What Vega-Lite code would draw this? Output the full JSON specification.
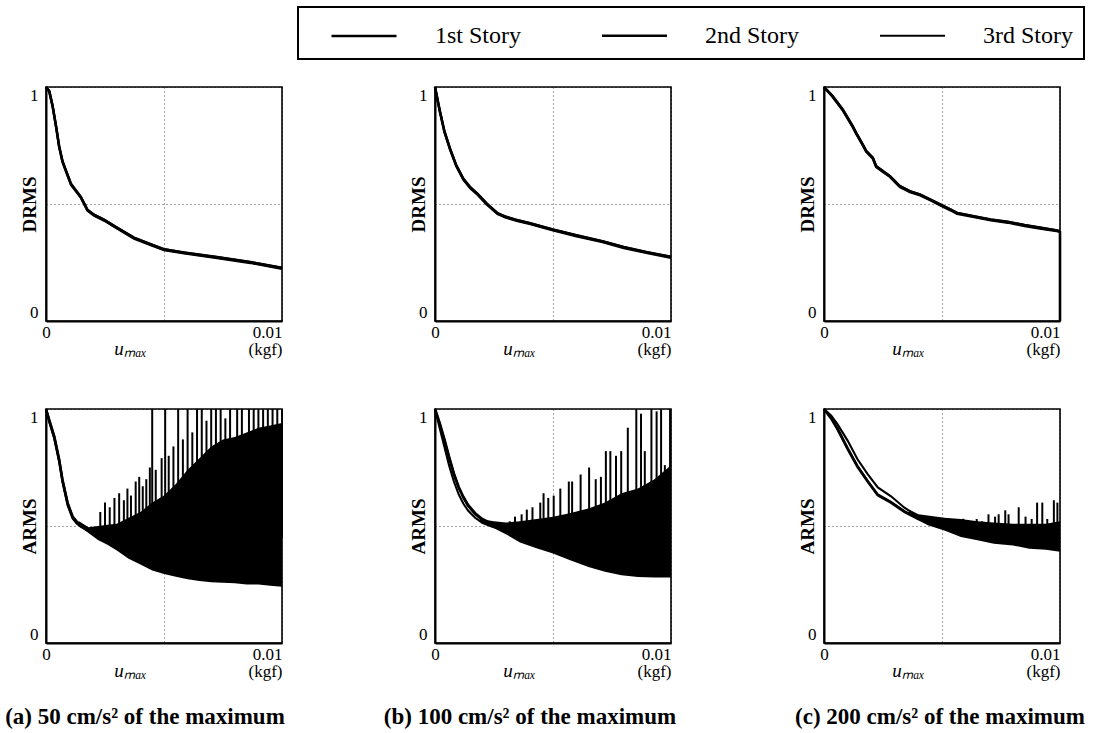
{
"$schema": "https://vega.github.io/schema/vega-lite/v6.json",
"background": "white",
"padding": {"left": 1, "top": 6, "right": 5, "bottom": 5},
"datasets": {
"lines": [
{"p":"a1","s":"1st Story","x":0,"y":1},{"p":"a1","s":"1st Story","x":0.00014,"y":0.982},{"p":"a1","s":"1st Story","x":0.00028,"y":0.919},{"p":"a1","s":"1st Story","x":0.00042,"y":0.836},{"p":"a1","s":"1st Story","x":0.00056,"y":0.745},{"p":"a1","s":"1st Story","x":0.0007,"y":0.682},{"p":"a1","s":"1st Story","x":0.00085,"y":0.641},{"p":"a1","s":"1st Story","x":0.00106,"y":0.585},{"p":"a1","s":"1st Story","x":0.00127,"y":0.557},{"p":"a1","s":"1st Story","x":0.00148,"y":0.529},{"p":"a1","s":"1st Story","x":0.00176,"y":0.474},{"p":"a1","s":"1st Story","x":0.00204,"y":0.453},{"p":"a1","s":"1st Story","x":0.00246,"y":0.432},{"p":"a1","s":"1st Story","x":0.00303,"y":0.397},{"p":"a1","s":"1st Story","x":0.00373,"y":0.355},{"p":"a1","s":"1st Story","x":0.00444,"y":0.327},{"p":"a1","s":"1st Story","x":0.005,"y":0.306},{"p":"a1","s":"1st Story","x":0.00585,"y":0.292},{"p":"a1","s":"1st Story","x":0.00725,"y":0.272},{"p":"a1","s":"1st Story","x":0.00866,"y":0.251},{"p":"a1","s":"1st Story","x":0.01,"y":0.226},
{"p":"a1","s":"2nd Story","x":0,"y":1},{"p":"a1","s":"2nd Story","x":0.00014,"y":0.979},{"p":"a1","s":"2nd Story","x":0.00028,"y":0.916},{"p":"a1","s":"2nd Story","x":0.00042,"y":0.833},{"p":"a1","s":"2nd Story","x":0.00056,"y":0.742},{"p":"a1","s":"2nd Story","x":0.0007,"y":0.679},{"p":"a1","s":"2nd Story","x":0.00085,"y":0.638},{"p":"a1","s":"2nd Story","x":0.00106,"y":0.582},{"p":"a1","s":"2nd Story","x":0.00127,"y":0.554},{"p":"a1","s":"2nd Story","x":0.00148,"y":0.526},{"p":"a1","s":"2nd Story","x":0.00176,"y":0.471},{"p":"a1","s":"2nd Story","x":0.00204,"y":0.45},{"p":"a1","s":"2nd Story","x":0.00246,"y":0.429},{"p":"a1","s":"2nd Story","x":0.00303,"y":0.394},{"p":"a1","s":"2nd Story","x":0.00373,"y":0.352},{"p":"a1","s":"2nd Story","x":0.00444,"y":0.324},{"p":"a1","s":"2nd Story","x":0.005,"y":0.303},{"p":"a1","s":"2nd Story","x":0.00585,"y":0.289},{"p":"a1","s":"2nd Story","x":0.00725,"y":0.269},{"p":"a1","s":"2nd Story","x":0.00866,"y":0.248},{"p":"a1","s":"2nd Story","x":0.01,"y":0.223},
{"p":"a1","s":"3rd Story","x":0,"y":1},{"p":"a1","s":"3rd Story","x":0.00014,"y":0.984},{"p":"a1","s":"3rd Story","x":0.00028,"y":0.921},{"p":"a1","s":"3rd Story","x":0.00042,"y":0.838},{"p":"a1","s":"3rd Story","x":0.00056,"y":0.747},{"p":"a1","s":"3rd Story","x":0.0007,"y":0.684},{"p":"a1","s":"3rd Story","x":0.00085,"y":0.643},{"p":"a1","s":"3rd Story","x":0.00106,"y":0.587},{"p":"a1","s":"3rd Story","x":0.00127,"y":0.559},{"p":"a1","s":"3rd Story","x":0.00148,"y":0.531},{"p":"a1","s":"3rd Story","x":0.00176,"y":0.476},{"p":"a1","s":"3rd Story","x":0.00204,"y":0.455},{"p":"a1","s":"3rd Story","x":0.00246,"y":0.434},{"p":"a1","s":"3rd Story","x":0.00303,"y":0.399},{"p":"a1","s":"3rd Story","x":0.00373,"y":0.357},{"p":"a1","s":"3rd Story","x":0.00444,"y":0.329},{"p":"a1","s":"3rd Story","x":0.005,"y":0.308},{"p":"a1","s":"3rd Story","x":0.00585,"y":0.294},{"p":"a1","s":"3rd Story","x":0.00725,"y":0.274},{"p":"a1","s":"3rd Story","x":0.00866,"y":0.253},{"p":"a1","s":"3rd Story","x":0.01,"y":0.228},

{"p":"b1","s":"1st Story","x":0,"y":1},{"p":"b1","s":"1st Story","x":0.0002,"y":0.9},{"p":"b1","s":"1st Story","x":0.0004,"y":0.81},{"p":"b1","s":"1st Story","x":0.00064,"y":0.735},{"p":"b1","s":"1st Story","x":0.0009,"y":0.665},{"p":"b1","s":"1st Story","x":0.0012,"y":0.607},{"p":"b1","s":"1st Story","x":0.0015,"y":0.57},{"p":"b1","s":"1st Story","x":0.0018,"y":0.543},{"p":"b1","s":"1st Story","x":0.0022,"y":0.5},{"p":"b1","s":"1st Story","x":0.00265,"y":0.46},{"p":"b1","s":"1st Story","x":0.003,"y":0.445},{"p":"b1","s":"1st Story","x":0.0035,"y":0.43},{"p":"b1","s":"1st Story","x":0.004,"y":0.418},{"p":"b1","s":"1st Story","x":0.005,"y":0.39},{"p":"b1","s":"1st Story","x":0.006,"y":0.365},{"p":"b1","s":"1st Story","x":0.0071,"y":0.34},{"p":"b1","s":"1st Story","x":0.008,"y":0.315},{"p":"b1","s":"1st Story","x":0.009,"y":0.293},{"p":"b1","s":"1st Story","x":0.01,"y":0.273},
{"p":"b1","s":"2nd Story","x":0,"y":1},{"p":"b1","s":"2nd Story","x":0.0002,"y":0.897},{"p":"b1","s":"2nd Story","x":0.0004,"y":0.807},{"p":"b1","s":"2nd Story","x":0.00064,"y":0.732},{"p":"b1","s":"2nd Story","x":0.0009,"y":0.662},{"p":"b1","s":"2nd Story","x":0.0012,"y":0.604},{"p":"b1","s":"2nd Story","x":0.0015,"y":0.567},{"p":"b1","s":"2nd Story","x":0.0018,"y":0.54},{"p":"b1","s":"2nd Story","x":0.0022,"y":0.497},{"p":"b1","s":"2nd Story","x":0.00265,"y":0.457},{"p":"b1","s":"2nd Story","x":0.003,"y":0.442},{"p":"b1","s":"2nd Story","x":0.0035,"y":0.427},{"p":"b1","s":"2nd Story","x":0.004,"y":0.415},{"p":"b1","s":"2nd Story","x":0.005,"y":0.387},{"p":"b1","s":"2nd Story","x":0.006,"y":0.362},{"p":"b1","s":"2nd Story","x":0.0071,"y":0.337},{"p":"b1","s":"2nd Story","x":0.008,"y":0.312},{"p":"b1","s":"2nd Story","x":0.009,"y":0.29},{"p":"b1","s":"2nd Story","x":0.01,"y":0.27},
{"p":"b1","s":"3rd Story","x":0,"y":1},{"p":"b1","s":"3rd Story","x":0.0002,"y":0.902},{"p":"b1","s":"3rd Story","x":0.0004,"y":0.812},{"p":"b1","s":"3rd Story","x":0.00064,"y":0.737},{"p":"b1","s":"3rd Story","x":0.0009,"y":0.667},{"p":"b1","s":"3rd Story","x":0.0012,"y":0.609},{"p":"b1","s":"3rd Story","x":0.0015,"y":0.572},{"p":"b1","s":"3rd Story","x":0.0018,"y":0.545},{"p":"b1","s":"3rd Story","x":0.0022,"y":0.502},{"p":"b1","s":"3rd Story","x":0.00265,"y":0.462},{"p":"b1","s":"3rd Story","x":0.003,"y":0.447},{"p":"b1","s":"3rd Story","x":0.0035,"y":0.432},{"p":"b1","s":"3rd Story","x":0.004,"y":0.42},{"p":"b1","s":"3rd Story","x":0.005,"y":0.392},{"p":"b1","s":"3rd Story","x":0.006,"y":0.367},{"p":"b1","s":"3rd Story","x":0.0071,"y":0.342},{"p":"b1","s":"3rd Story","x":0.008,"y":0.317},{"p":"b1","s":"3rd Story","x":0.009,"y":0.295},{"p":"b1","s":"3rd Story","x":0.01,"y":0.275},

{"p":"c1","s":"1st Story","x":0,"y":1},{"p":"c1","s":"1st Story","x":0.00036,"y":0.961},{"p":"c1","s":"1st Story","x":0.00079,"y":0.904},{"p":"c1","s":"1st Story","x":0.00121,"y":0.833},{"p":"c1","s":"1st Story","x":0.00136,"y":0.804},{"p":"c1","s":"1st Story","x":0.00164,"y":0.754},{"p":"c1","s":"1st Story","x":0.00179,"y":0.726},{"p":"c1","s":"1st Story","x":0.00207,"y":0.697},{"p":"c1","s":"1st Story","x":0.00221,"y":0.661},{"p":"c1","s":"1st Story","x":0.0025,"y":0.64},{"p":"c1","s":"1st Story","x":0.00279,"y":0.619},{"p":"c1","s":"1st Story","x":0.00321,"y":0.576},{"p":"c1","s":"1st Story","x":0.00364,"y":0.554},{"p":"c1","s":"1st Story","x":0.00407,"y":0.54},{"p":"c1","s":"1st Story","x":0.0045,"y":0.519},{"p":"c1","s":"1st Story","x":0.00493,"y":0.497},{"p":"c1","s":"1st Story","x":0.00536,"y":0.476},{"p":"c1","s":"1st Story","x":0.00564,"y":0.461},{"p":"c1","s":"1st Story","x":0.00636,"y":0.447},{"p":"c1","s":"1st Story","x":0.00707,"y":0.433},{"p":"c1","s":"1st Story","x":0.00779,"y":0.423},{"p":"c1","s":"1st Story","x":0.0085,"y":0.409},{"p":"c1","s":"1st Story","x":0.00921,"y":0.397},{"p":"c1","s":"1st Story","x":0.00986,"y":0.387},{"p":"c1","s":"1st Story","x":0.01,"y":0.38},{"p":"c1","s":"1st Story","x":0.01,"y":0},
{"p":"c1","s":"2nd Story","x":0,"y":1},{"p":"c1","s":"2nd Story","x":0.00036,"y":0.958},{"p":"c1","s":"2nd Story","x":0.00079,"y":0.901},{"p":"c1","s":"2nd Story","x":0.00121,"y":0.83},{"p":"c1","s":"2nd Story","x":0.00136,"y":0.801},{"p":"c1","s":"2nd Story","x":0.00164,"y":0.751},{"p":"c1","s":"2nd Story","x":0.00179,"y":0.723},{"p":"c1","s":"2nd Story","x":0.00207,"y":0.694},{"p":"c1","s":"2nd Story","x":0.00221,"y":0.658},{"p":"c1","s":"2nd Story","x":0.0025,"y":0.637},{"p":"c1","s":"2nd Story","x":0.00279,"y":0.616},{"p":"c1","s":"2nd Story","x":0.00321,"y":0.573},{"p":"c1","s":"2nd Story","x":0.00364,"y":0.551},{"p":"c1","s":"2nd Story","x":0.00407,"y":0.537},{"p":"c1","s":"2nd Story","x":0.0045,"y":0.516},{"p":"c1","s":"2nd Story","x":0.00493,"y":0.494},{"p":"c1","s":"2nd Story","x":0.00536,"y":0.473},{"p":"c1","s":"2nd Story","x":0.00564,"y":0.458},{"p":"c1","s":"2nd Story","x":0.00636,"y":0.444},{"p":"c1","s":"2nd Story","x":0.00707,"y":0.43},{"p":"c1","s":"2nd Story","x":0.00779,"y":0.42},{"p":"c1","s":"2nd Story","x":0.0085,"y":0.406},{"p":"c1","s":"2nd Story","x":0.00921,"y":0.394},{"p":"c1","s":"2nd Story","x":0.01,"y":0.382},
{"p":"c1","s":"3rd Story","x":0,"y":1},{"p":"c1","s":"3rd Story","x":0.00036,"y":0.963},{"p":"c1","s":"3rd Story","x":0.00079,"y":0.906},{"p":"c1","s":"3rd Story","x":0.00121,"y":0.835},{"p":"c1","s":"3rd Story","x":0.00136,"y":0.806},{"p":"c1","s":"3rd Story","x":0.00164,"y":0.756},{"p":"c1","s":"3rd Story","x":0.00179,"y":0.728},{"p":"c1","s":"3rd Story","x":0.00207,"y":0.699},{"p":"c1","s":"3rd Story","x":0.00221,"y":0.663},{"p":"c1","s":"3rd Story","x":0.0025,"y":0.642},{"p":"c1","s":"3rd Story","x":0.00279,"y":0.621},{"p":"c1","s":"3rd Story","x":0.00321,"y":0.578},{"p":"c1","s":"3rd Story","x":0.00364,"y":0.556},{"p":"c1","s":"3rd Story","x":0.00407,"y":0.542},{"p":"c1","s":"3rd Story","x":0.0045,"y":0.521},{"p":"c1","s":"3rd Story","x":0.00493,"y":0.499},{"p":"c1","s":"3rd Story","x":0.00536,"y":0.478},{"p":"c1","s":"3rd Story","x":0.00564,"y":0.463},{"p":"c1","s":"3rd Story","x":0.00636,"y":0.449},{"p":"c1","s":"3rd Story","x":0.00707,"y":0.435},{"p":"c1","s":"3rd Story","x":0.00779,"y":0.425},{"p":"c1","s":"3rd Story","x":0.0085,"y":0.411},{"p":"c1","s":"3rd Story","x":0.00921,"y":0.399},{"p":"c1","s":"3rd Story","x":0.01,"y":0.386},

{"p":"a2","s":"1st Story","x":0,"y":1},{"p":"a2","s":"1st Story","x":0.00015,"y":0.945},{"p":"a2","s":"1st Story","x":0.00035,"y":0.879},{"p":"a2","s":"1st Story","x":0.00056,"y":0.779},{"p":"a2","s":"1st Story","x":0.0007,"y":0.693},{"p":"a2","s":"1st Story","x":0.00092,"y":0.593},{"p":"a2","s":"1st Story","x":0.00113,"y":0.536},{"p":"a2","s":"1st Story","x":0.0013,"y":0.515},{"p":"a2","s":"1st Story","x":0.00148,"y":0.5},{"p":"a2","s":"1st Story","x":0.0018,"y":0.482},{"p":"a2","s":"1st Story","x":0.0022,"y":0.462},{"p":"a2","s":"1st Story","x":0.0026,"y":0.44},{"p":"a2","s":"1st Story","x":0.003,"y":0.42},{"p":"a2","s":"1st Story","x":0.004,"y":0.38},{"p":"a2","s":"1st Story","x":0.005,"y":0.345},{"p":"a2","s":"1st Story","x":0.006,"y":0.32},{"p":"a2","s":"1st Story","x":0.007,"y":0.305},{"p":"a2","s":"1st Story","x":0.008,"y":0.295},{"p":"a2","s":"1st Story","x":0.009,"y":0.285},{"p":"a2","s":"1st Story","x":0.01,"y":0.275},
{"p":"a2","s":"2nd Story","x":0,"y":1},{"p":"a2","s":"2nd Story","x":0.00015,"y":0.95},{"p":"a2","s":"2nd Story","x":0.00035,"y":0.885},{"p":"a2","s":"2nd Story","x":0.00056,"y":0.785},{"p":"a2","s":"2nd Story","x":0.0007,"y":0.699},{"p":"a2","s":"2nd Story","x":0.00092,"y":0.599},{"p":"a2","s":"2nd Story","x":0.00113,"y":0.541},{"p":"a2","s":"2nd Story","x":0.0013,"y":0.52},{"p":"a2","s":"2nd Story","x":0.00148,"y":0.505},{"p":"a2","s":"2nd Story","x":0.0018,"y":0.487},{"p":"a2","s":"2nd Story","x":0.0022,"y":0.466},{"p":"a2","s":"2nd Story","x":0.0026,"y":0.444},{"p":"a2","s":"2nd Story","x":0.003,"y":0.424},{"p":"a2","s":"2nd Story","x":0.004,"y":0.383},{"p":"a2","s":"2nd Story","x":0.005,"y":0.348},{"p":"a2","s":"2nd Story","x":0.006,"y":0.323},{"p":"a2","s":"2nd Story","x":0.007,"y":0.308},{"p":"a2","s":"2nd Story","x":0.008,"y":0.298},{"p":"a2","s":"2nd Story","x":0.009,"y":0.288},{"p":"a2","s":"2nd Story","x":0.01,"y":0.278},
{"p":"a2","s":"3rd Story","x":0,"y":1},{"p":"a2","s":"3rd Story","x":0.00015,"y":0.941},{"p":"a2","s":"3rd Story","x":0.00035,"y":0.874},{"p":"a2","s":"3rd Story","x":0.00056,"y":0.774},{"p":"a2","s":"3rd Story","x":0.0007,"y":0.688},{"p":"a2","s":"3rd Story","x":0.00092,"y":0.588},{"p":"a2","s":"3rd Story","x":0.00113,"y":0.532},{"p":"a2","s":"3rd Story","x":0.0013,"y":0.511},{"p":"a2","s":"3rd Story","x":0.00148,"y":0.496},{"p":"a2","s":"3rd Story","x":0.0018,"y":0.478},{"p":"a2","s":"3rd Story","x":0.0022,"y":0.458},{"p":"a2","s":"3rd Story","x":0.0026,"y":0.436},{"p":"a2","s":"3rd Story","x":0.003,"y":0.416},{"p":"a2","s":"3rd Story","x":0.004,"y":0.376},{"p":"a2","s":"3rd Story","x":0.005,"y":0.341},{"p":"a2","s":"3rd Story","x":0.006,"y":0.316},{"p":"a2","s":"3rd Story","x":0.007,"y":0.301},{"p":"a2","s":"3rd Story","x":0.008,"y":0.291},{"p":"a2","s":"3rd Story","x":0.009,"y":0.281},{"p":"a2","s":"3rd Story","x":0.01,"y":0.271},

{"p":"b2","s":"1st Story","x":0,"y":1},{"p":"b2","s":"1st Story","x":0.0002,"y":0.94},{"p":"b2","s":"1st Story","x":0.0004,"y":0.87},{"p":"b2","s":"1st Story","x":0.0006,"y":0.795},{"p":"b2","s":"1st Story","x":0.0008,"y":0.725},{"p":"b2","s":"1st Story","x":0.001,"y":0.668},{"p":"b2","s":"1st Story","x":0.0012,"y":0.625},{"p":"b2","s":"1st Story","x":0.0014,"y":0.59},{"p":"b2","s":"1st Story","x":0.0017,"y":0.555},{"p":"b2","s":"1st Story","x":0.002,"y":0.53},{"p":"b2","s":"1st Story","x":0.0024,"y":0.51},{"p":"b2","s":"1st Story","x":0.0028,"y":0.495},{"p":"b2","s":"1st Story","x":0.0035,"y":0.47},{"p":"b2","s":"1st Story","x":0.0045,"y":0.44},{"p":"b2","s":"1st Story","x":0.006,"y":0.41},{"p":"b2","s":"1st Story","x":0.008,"y":0.38},{"p":"b2","s":"1st Story","x":0.01,"y":0.36},
{"p":"b2","s":"2nd Story","x":0,"y":1},{"p":"b2","s":"2nd Story","x":0.0002,"y":0.936},{"p":"b2","s":"2nd Story","x":0.0004,"y":0.866},{"p":"b2","s":"2nd Story","x":0.0006,"y":0.791},{"p":"b2","s":"2nd Story","x":0.0008,"y":0.721},{"p":"b2","s":"2nd Story","x":0.001,"y":0.664},{"p":"b2","s":"2nd Story","x":0.0012,"y":0.621},{"p":"b2","s":"2nd Story","x":0.0014,"y":0.586},{"p":"b2","s":"2nd Story","x":0.0017,"y":0.551},{"p":"b2","s":"2nd Story","x":0.002,"y":0.526},{"p":"b2","s":"2nd Story","x":0.0024,"y":0.506},{"p":"b2","s":"2nd Story","x":0.0028,"y":0.491},{"p":"b2","s":"2nd Story","x":0.0035,"y":0.466},{"p":"b2","s":"2nd Story","x":0.0045,"y":0.436},{"p":"b2","s":"2nd Story","x":0.006,"y":0.406},{"p":"b2","s":"2nd Story","x":0.008,"y":0.376},{"p":"b2","s":"2nd Story","x":0.01,"y":0.356},
{"p":"b2","s":"3rd Story","x":0,"y":1},{"p":"b2","s":"3rd Story","x":0.0002,"y":0.918},{"p":"b2","s":"3rd Story","x":0.0004,"y":0.838},{"p":"b2","s":"3rd Story","x":0.0006,"y":0.758},{"p":"b2","s":"3rd Story","x":0.0008,"y":0.69},{"p":"b2","s":"3rd Story","x":0.001,"y":0.636},{"p":"b2","s":"3rd Story","x":0.0012,"y":0.596},{"p":"b2","s":"3rd Story","x":0.0014,"y":0.566},{"p":"b2","s":"3rd Story","x":0.0017,"y":0.535},{"p":"b2","s":"3rd Story","x":0.002,"y":0.514},{"p":"b2","s":"3rd Story","x":0.0024,"y":0.498},{"p":"b2","s":"3rd Story","x":0.0028,"y":0.486},{"p":"b2","s":"3rd Story","x":0.0035,"y":0.465},{"p":"b2","s":"3rd Story","x":0.0045,"y":0.437},{"p":"b2","s":"3rd Story","x":0.006,"y":0.408},{"p":"b2","s":"3rd Story","x":0.008,"y":0.378},{"p":"b2","s":"3rd Story","x":0.01,"y":0.358},

{"p":"c2","s":"1st Story","x":0,"y":1},{"p":"c2","s":"1st Story","x":0.0003,"y":0.96},{"p":"c2","s":"1st Story","x":0.00057,"y":0.914},{"p":"c2","s":"1st Story","x":0.001,"y":0.83},{"p":"c2","s":"1st Story","x":0.00142,"y":0.753},{"p":"c2","s":"1st Story","x":0.00185,"y":0.69},{"p":"c2","s":"1st Story","x":0.00228,"y":0.631},{"p":"c2","s":"1st Story","x":0.00284,"y":0.6},{"p":"c2","s":"1st Story","x":0.00341,"y":0.56},{"p":"c2","s":"1st Story","x":0.00398,"y":0.531},{"p":"c2","s":"1st Story","x":0.00455,"y":0.51},{"p":"c2","s":"1st Story","x":0.0055,"y":0.485},{"p":"c2","s":"1st Story","x":0.007,"y":0.455},{"p":"c2","s":"1st Story","x":0.0085,"y":0.435},{"p":"c2","s":"1st Story","x":0.01,"y":0.425},
{"p":"c2","s":"2nd Story","x":0,"y":1},{"p":"c2","s":"2nd Story","x":0.0003,"y":0.963},{"p":"c2","s":"2nd Story","x":0.00057,"y":0.917},{"p":"c2","s":"2nd Story","x":0.001,"y":0.833},{"p":"c2","s":"2nd Story","x":0.00142,"y":0.756},{"p":"c2","s":"2nd Story","x":0.00185,"y":0.693},{"p":"c2","s":"2nd Story","x":0.00228,"y":0.634},{"p":"c2","s":"2nd Story","x":0.00284,"y":0.603},{"p":"c2","s":"2nd Story","x":0.00341,"y":0.563},{"p":"c2","s":"2nd Story","x":0.00398,"y":0.534},{"p":"c2","s":"2nd Story","x":0.00455,"y":0.513},{"p":"c2","s":"2nd Story","x":0.0055,"y":0.488},{"p":"c2","s":"2nd Story","x":0.007,"y":0.458},{"p":"c2","s":"2nd Story","x":0.0085,"y":0.438},{"p":"c2","s":"2nd Story","x":0.01,"y":0.428},
{"p":"c2","s":"3rd Story","x":0,"y":1},{"p":"c2","s":"3rd Story","x":0.0003,"y":0.972},{"p":"c2","s":"3rd Story","x":0.00057,"y":0.935},{"p":"c2","s":"3rd Story","x":0.001,"y":0.865},{"p":"c2","s":"3rd Story","x":0.00142,"y":0.785},{"p":"c2","s":"3rd Story","x":0.00185,"y":0.722},{"p":"c2","s":"3rd Story","x":0.00228,"y":0.665},{"p":"c2","s":"3rd Story","x":0.00284,"y":0.627},{"p":"c2","s":"3rd Story","x":0.00341,"y":0.578},{"p":"c2","s":"3rd Story","x":0.00398,"y":0.541},{"p":"c2","s":"3rd Story","x":0.00455,"y":0.518},{"p":"c2","s":"3rd Story","x":0.0055,"y":0.49},{"p":"c2","s":"3rd Story","x":0.007,"y":0.46},{"p":"c2","s":"3rd Story","x":0.0085,"y":0.44},{"p":"c2","s":"3rd Story","x":0.01,"y":0.43}
],
"band": [
{"p":"a2","x":0.0014,"lo":0.5,"hi":0.52},{"p":"a2","x":0.0018,"lo":0.47,"hi":0.495},{"p":"a2","x":0.0022,"lo":0.44,"hi":0.5},{"p":"a2","x":0.0026,"lo":0.42,"hi":0.505},{"p":"a2","x":0.003,"lo":0.395,"hi":0.51},{"p":"a2","x":0.0035,"lo":0.36,"hi":0.535},{"p":"a2","x":0.004,"lo":0.335,"hi":0.56},{"p":"a2","x":0.0045,"lo":0.31,"hi":0.6},{"p":"a2","x":0.005,"lo":0.295,"hi":0.63},{"p":"a2","x":0.0055,"lo":0.283,"hi":0.68},{"p":"a2","x":0.006,"lo":0.272,"hi":0.74},{"p":"a2","x":0.0065,"lo":0.265,"hi":0.79},{"p":"a2","x":0.007,"lo":0.26,"hi":0.84},{"p":"a2","x":0.0075,"lo":0.258,"hi":0.87},{"p":"a2","x":0.008,"lo":0.255,"hi":0.88},{"p":"a2","x":0.0085,"lo":0.25,"hi":0.9},{"p":"a2","x":0.009,"lo":0.25,"hi":0.92},{"p":"a2","x":0.0095,"lo":0.245,"hi":0.93},{"p":"a2","x":0.01,"lo":0.24,"hi":0.94},
{"p":"b2","x":0.0019,"lo":0.52,"hi":0.53},{"p":"b2","x":0.0025,"lo":0.49,"hi":0.52},{"p":"b2","x":0.003,"lo":0.465,"hi":0.515},{"p":"b2","x":0.0036,"lo":0.43,"hi":0.52},{"p":"b2","x":0.0043,"lo":0.405,"hi":0.53},{"p":"b2","x":0.005,"lo":0.383,"hi":0.54},{"p":"b2","x":0.0057,"lo":0.355,"hi":0.555},{"p":"b2","x":0.0065,"lo":0.325,"hi":0.575},{"p":"b2","x":0.0072,"lo":0.304,"hi":0.6},{"p":"b2","x":0.0079,"lo":0.289,"hi":0.64},{"p":"b2","x":0.0086,"lo":0.282,"hi":0.66},{"p":"b2","x":0.0093,"lo":0.28,"hi":0.7},{"p":"b2","x":0.01,"lo":0.28,"hi":0.76},
{"p":"c2","x":0.0036,"lo":0.55,"hi":0.57},{"p":"c2","x":0.004,"lo":0.525,"hi":0.55},{"p":"c2","x":0.0044,"lo":0.503,"hi":0.545},{"p":"c2","x":0.0051,"lo":0.481,"hi":0.535},{"p":"c2","x":0.0058,"lo":0.453,"hi":0.53},{"p":"c2","x":0.0065,"lo":0.439,"hi":0.52},{"p":"c2","x":0.0072,"lo":0.424,"hi":0.515},{"p":"c2","x":0.008,"lo":0.417,"hi":0.51},{"p":"c2","x":0.0087,"lo":0.403,"hi":0.51},{"p":"c2","x":0.0094,"lo":0.398,"hi":0.51},{"p":"c2","x":0.01,"lo":0.39,"hi":0.52}
],
"spk": [
{"p":"a2","x":0.0023,"lo":0.45,"hi":0.56},{"p":"a2","x":0.0025,"lo":0.45,"hi":0.6},{"p":"a2","x":0.0027,"lo":0.45,"hi":0.58},{"p":"a2","x":0.0029,"lo":0.45,"hi":0.62},{"p":"a2","x":0.0031,"lo":0.45,"hi":0.64},{"p":"a2","x":0.0033,"lo":0.45,"hi":0.61},{"p":"a2","x":0.00345,"lo":0.45,"hi":0.66},{"p":"a2","x":0.0036,"lo":0.45,"hi":0.63},{"p":"a2","x":0.0038,"lo":0.45,"hi":0.69},{"p":"a2","x":0.00395,"lo":0.45,"hi":0.71},{"p":"a2","x":0.0041,"lo":0.45,"hi":0.67},{"p":"a2","x":0.00425,"lo":0.45,"hi":0.7},{"p":"a2","x":0.0044,"lo":0.45,"hi":0.75},{"p":"a2","x":0.0045,"lo":0.45,"hi":1},{"p":"a2","x":0.00465,"lo":0.45,"hi":0.74},{"p":"a2","x":0.0049,"lo":0.45,"hi":0.79},{"p":"a2","x":0.00505,"lo":0.45,"hi":1},{"p":"a2","x":0.0052,"lo":0.45,"hi":0.8},{"p":"a2","x":0.0054,"lo":0.45,"hi":0.84},{"p":"a2","x":0.0056,"lo":0.45,"hi":1},{"p":"a2","x":0.0058,"lo":0.45,"hi":0.87},{"p":"a2","x":0.006,"lo":0.45,"hi":1},{"p":"a2","x":0.0062,"lo":0.45,"hi":0.9},{"p":"a2","x":0.0064,"lo":0.45,"hi":1},{"p":"a2","x":0.0066,"lo":0.45,"hi":1},{"p":"a2","x":0.0068,"lo":0.45,"hi":0.95},{"p":"a2","x":0.007,"lo":0.45,"hi":1},{"p":"a2","x":0.0072,"lo":0.45,"hi":1},{"p":"a2","x":0.0074,"lo":0.45,"hi":1},{"p":"a2","x":0.0076,"lo":0.45,"hi":0.96},{"p":"a2","x":0.0078,"lo":0.45,"hi":1},{"p":"a2","x":0.0081,"lo":0.45,"hi":1},{"p":"a2","x":0.0083,"lo":0.45,"hi":1},{"p":"a2","x":0.0086,"lo":0.45,"hi":1},{"p":"a2","x":0.0088,"lo":0.45,"hi":1},{"p":"a2","x":0.009,"lo":0.45,"hi":1},{"p":"a2","x":0.0092,"lo":0.45,"hi":1},{"p":"a2","x":0.0094,"lo":0.45,"hi":1},{"p":"a2","x":0.0096,"lo":0.45,"hi":1},{"p":"a2","x":0.0098,"lo":0.45,"hi":1},{"p":"a2","x":0.01,"lo":0.45,"hi":1},
{"p":"b2","x":0.00317,"lo":0.5,"hi":0.52},{"p":"b2","x":0.00339,"lo":0.5,"hi":0.54},{"p":"b2","x":0.00367,"lo":0.5,"hi":0.55},{"p":"b2","x":0.00389,"lo":0.5,"hi":0.57},{"p":"b2","x":0.00413,"lo":0.5,"hi":0.58},{"p":"b2","x":0.00446,"lo":0.5,"hi":0.6},{"p":"b2","x":0.0046,"lo":0.5,"hi":0.64},{"p":"b2","x":0.0048,"lo":0.5,"hi":0.62},{"p":"b2","x":0.00503,"lo":0.5,"hi":0.63},{"p":"b2","x":0.00531,"lo":0.5,"hi":0.66},{"p":"b2","x":0.00567,"lo":0.5,"hi":0.69},{"p":"b2","x":0.00581,"lo":0.5,"hi":0.69},{"p":"b2","x":0.00617,"lo":0.5,"hi":0.72},{"p":"b2","x":0.00653,"lo":0.5,"hi":0.75},{"p":"b2","x":0.00681,"lo":0.5,"hi":0.7},{"p":"b2","x":0.00703,"lo":0.5,"hi":0.71},{"p":"b2","x":0.00724,"lo":0.5,"hi":0.82},{"p":"b2","x":0.00743,"lo":0.5,"hi":0.82},{"p":"b2","x":0.00767,"lo":0.5,"hi":0.8},{"p":"b2","x":0.00789,"lo":0.5,"hi":0.82},{"p":"b2","x":0.00817,"lo":0.5,"hi":0.92},{"p":"b2","x":0.00853,"lo":0.5,"hi":1},{"p":"b2","x":0.00873,"lo":0.5,"hi":0.98},{"p":"b2","x":0.00889,"lo":0.5,"hi":0.82},{"p":"b2","x":0.00917,"lo":0.5,"hi":1},{"p":"b2","x":0.00939,"lo":0.5,"hi":0.99},{"p":"b2","x":0.00958,"lo":0.5,"hi":1},{"p":"b2","x":0.00974,"lo":0.5,"hi":0.76},{"p":"b2","x":0.00996,"lo":0.5,"hi":1},
{"p":"c2","x":0.0059,"lo":0.5,"hi":0.531},{"p":"c2","x":0.0061,"lo":0.5,"hi":0.52},{"p":"c2","x":0.00647,"lo":0.5,"hi":0.53},{"p":"c2","x":0.0067,"lo":0.5,"hi":0.52},{"p":"c2","x":0.00697,"lo":0.5,"hi":0.55},{"p":"c2","x":0.00725,"lo":0.5,"hi":0.54},{"p":"c2","x":0.0074,"lo":0.5,"hi":0.55},{"p":"c2","x":0.00768,"lo":0.5,"hi":0.567},{"p":"c2","x":0.00782,"lo":0.5,"hi":0.55},{"p":"c2","x":0.00825,"lo":0.5,"hi":0.58},{"p":"c2","x":0.00854,"lo":0.5,"hi":0.54},{"p":"c2","x":0.0088,"lo":0.5,"hi":0.53},{"p":"c2","x":0.00903,"lo":0.5,"hi":0.6},{"p":"c2","x":0.00925,"lo":0.5,"hi":0.6},{"p":"c2","x":0.00946,"lo":0.5,"hi":0.53},{"p":"c2","x":0.00974,"lo":0.5,"hi":0.61},{"p":"c2","x":0.00989,"lo":0.5,"hi":0.6}
]
},
"columns": 3,
"spacing": {"row": 88, "column": 153},
"bounds": "flush",
"resolve": {"scale": {"strokeWidth": "shared"}, "legend": {"strokeWidth": "shared"}},
"concat": [
{"width": 236, "height": 234, "data": {"name": "lines"}, "transform": [{"filter": "datum.p === 'a1'"}],
 "mark": {"type": "line", "color": "black"},
 "encoding": {
  "x": {"field": "x", "type": "quantitative", "scale": {"domain": [0, 0.01], "nice": false, "zero": false}, "axis": {"values": [0, 0.005, 0.01], "labelFlush": false, "labelAlign": {"condition": {"test": "datum.value > 0.009", "value": "right"}, "value": "center"}}, "title": "uₘₐₓ"},
  "y": {"field": "y", "type": "quantitative", "scale": {"domain": [0, 1], "nice": false}, "axis": {"values": [0, 0.5, 1]}, "title": "DRMS"},
  "strokeWidth": {"field": "s", "type": "ordinal", "title": null, "scale": {"domain": ["1st Story", "2nd Story", "3rd Story"], "range": [2.6, 2.1, 1.1]}}
 }},
{"width": 236, "height": 234, "data": {"name": "lines"}, "transform": [{"filter": "datum.p === 'b1'"}],
 "mark": {"type": "line", "color": "black"},
 "encoding": {
  "x": {"field": "x", "type": "quantitative", "scale": {"domain": [0, 0.01], "nice": false, "zero": false}, "axis": {"values": [0, 0.005, 0.01], "labelFlush": false, "labelAlign": {"condition": {"test": "datum.value > 0.009", "value": "right"}, "value": "center"}}, "title": "uₘₐₓ"},
  "y": {"field": "y", "type": "quantitative", "scale": {"domain": [0, 1], "nice": false}, "axis": {"values": [0, 0.5, 1]}, "title": "DRMS"},
  "strokeWidth": {"field": "s", "type": "ordinal", "title": null, "scale": {"domain": ["1st Story", "2nd Story", "3rd Story"], "range": [2.6, 2.1, 1.1]}}
 }},
{"width": 236, "height": 234, "data": {"name": "lines"}, "transform": [{"filter": "datum.p === 'c1'"}],
 "mark": {"type": "line", "color": "black"},
 "encoding": {
  "x": {"field": "x", "type": "quantitative", "scale": {"domain": [0, 0.01], "nice": false, "zero": false}, "axis": {"values": [0, 0.005, 0.01], "labelFlush": false, "labelAlign": {"condition": {"test": "datum.value > 0.009", "value": "right"}, "value": "center"}}, "title": "uₘₐₓ"},
  "y": {"field": "y", "type": "quantitative", "scale": {"domain": [0, 1], "nice": false}, "axis": {"values": [0, 0.5, 1]}, "title": "DRMS"},
  "strokeWidth": {"field": "s", "type": "ordinal", "title": null, "scale": {"domain": ["1st Story", "2nd Story", "3rd Story"], "range": [2.6, 2.1, 1.1]}}
 }},
{"width": 236, "height": 234,
 "title": {"text": "(a)  50 cm/s² of the maximum", "orient": "bottom", "anchor": "middle", "frame": "group", "dx": -19, "offset": 26},
 "encoding": {"x": {"field": "x", "type": "quantitative", "scale": {"domain": [0, 0.01], "nice": false, "zero": false}, "axis": {"values": [0, 0.005, 0.01], "labelFlush": false, "labelAlign": {"condition": {"test": "datum.value > 0.009", "value": "right"}, "value": "center"}}, "title": "uₘₐₓ"}},
 "layer": [
  {"data": {"name": "band"}, "transform": [{"filter": "datum.p === 'a2'"}], "mark": {"type": "area", "color": "black", "opacity": 1},
   "encoding": {"y": {"field": "lo", "type": "quantitative", "scale": {"domain": [0, 1], "nice": false}, "axis": {"values": [0, 0.5, 1]}, "title": "ARMS"}, "y2": {"field": "hi"}}},
  {"data": {"name": "spk"}, "transform": [{"filter": "datum.p === 'a2'"}], "mark": {"type": "rule", "color": "black", "strokeWidth": 2},
   "encoding": {"y": {"field": "lo", "type": "quantitative", "scale": {"domain": [0, 1], "nice": false}, "axis": {"values": [0, 0.5, 1]}, "title": "ARMS"}, "y2": {"field": "hi"}}},
  {"data": {"name": "lines"}, "transform": [{"filter": "datum.p === 'a2'"}], "mark": {"type": "line", "color": "black"},
   "encoding": {"y": {"field": "y", "type": "quantitative", "scale": {"domain": [0, 1], "nice": false}, "axis": {"values": [0, 0.5, 1]}, "title": "ARMS"},
    "strokeWidth": {"field": "s", "type": "ordinal", "title": null, "scale": {"domain": ["1st Story", "2nd Story", "3rd Story"], "range": [2.6, 2.1, 1.1]}}}}
 ]},
{"width": 236, "height": 234,
 "title": {"text": "(b)  100 cm/s² of the maximum", "orient": "bottom", "anchor": "middle", "frame": "group", "dx": -23, "offset": 26},
 "encoding": {"x": {"field": "x", "type": "quantitative", "scale": {"domain": [0, 0.01], "nice": false, "zero": false}, "axis": {"values": [0, 0.005, 0.01], "labelFlush": false, "labelAlign": {"condition": {"test": "datum.value > 0.009", "value": "right"}, "value": "center"}}, "title": "uₘₐₓ"}},
 "layer": [
  {"data": {"name": "band"}, "transform": [{"filter": "datum.p === 'b2'"}], "mark": {"type": "area", "color": "black", "opacity": 1},
   "encoding": {"y": {"field": "lo", "type": "quantitative", "scale": {"domain": [0, 1], "nice": false}, "axis": {"values": [0, 0.5, 1]}, "title": "ARMS"}, "y2": {"field": "hi"}}},
  {"data": {"name": "spk"}, "transform": [{"filter": "datum.p === 'b2'"}], "mark": {"type": "rule", "color": "black", "strokeWidth": 2},
   "encoding": {"y": {"field": "lo", "type": "quantitative", "scale": {"domain": [0, 1], "nice": false}, "axis": {"values": [0, 0.5, 1]}, "title": "ARMS"}, "y2": {"field": "hi"}}},
  {"data": {"name": "lines"}, "transform": [{"filter": "datum.p === 'b2'"}], "mark": {"type": "line", "color": "black"},
   "encoding": {"y": {"field": "y", "type": "quantitative", "scale": {"domain": [0, 1], "nice": false}, "axis": {"values": [0, 0.5, 1]}, "title": "ARMS"},
    "strokeWidth": {"field": "s", "type": "ordinal", "title": null, "scale": {"domain": ["1st Story", "2nd Story", "3rd Story"], "range": [2.6, 2.1, 1.1]}}}}
 ]},
{"width": 236, "height": 234,
 "title": {"text": "(c)  200 cm/s² of the maximum", "orient": "bottom", "anchor": "middle", "frame": "group", "dx": -2, "offset": 26},
 "encoding": {"x": {"field": "x", "type": "quantitative", "scale": {"domain": [0, 0.01], "nice": false, "zero": false}, "axis": {"values": [0, 0.005, 0.01], "labelFlush": false, "labelAlign": {"condition": {"test": "datum.value > 0.009", "value": "right"}, "value": "center"}}, "title": "uₘₐₓ"}},
 "layer": [
  {"data": {"name": "band"}, "transform": [{"filter": "datum.p === 'c2'"}], "mark": {"type": "area", "color": "black", "opacity": 1},
   "encoding": {"y": {"field": "lo", "type": "quantitative", "scale": {"domain": [0, 1], "nice": false}, "axis": {"values": [0, 0.5, 1]}, "title": "ARMS"}, "y2": {"field": "hi"}}},
  {"data": {"name": "spk"}, "transform": [{"filter": "datum.p === 'c2'"}], "mark": {"type": "rule", "color": "black", "strokeWidth": 2},
   "encoding": {"y": {"field": "lo", "type": "quantitative", "scale": {"domain": [0, 1], "nice": false}, "axis": {"values": [0, 0.5, 1]}, "title": "ARMS"}, "y2": {"field": "hi"}}},
  {"data": {"name": "lines"}, "transform": [{"filter": "datum.p === 'c2'"}], "mark": {"type": "line", "color": "black"},
   "encoding": {"y": {"field": "y", "type": "quantitative", "scale": {"domain": [0, 1], "nice": false}, "axis": {"values": [0, 0.5, 1]}, "title": "ARMS"},
    "strokeWidth": {"field": "s", "type": "ordinal", "title": null, "scale": {"domain": ["1st Story", "2nd Story", "3rd Story"], "range": [2.6, 2.1, 1.1]}}}}
 ]}
],
"config": {
 "font": "Liberation Serif",
 "view": {"stroke": "black", "strokeWidth": 1.6},
 "axis": {"domainColor": "black", "domainWidth": 2, "ticks": false, "grid": true, "gridColor": "black", "gridDash": [1, 3], "gridOpacity": 0.7, "gridWidth": 1, "labelFont": "Liberation Serif", "labelFontSize": 17, "labelColor": "black", "labelFlush": true, "titleFont": "Liberation Serif", "titleColor": "black"},
 "axisX": {"labelExpr": "datum.value === 0 ? '0' : datum.value > 0.009 ? ['0.01', '(kgf)'] : ''", "labelPadding": 3, "labelLineHeight": 17, "titleFontStyle": "italic", "titleFontWeight": "normal", "titleFontSize": 19, "titleX": 84, "titleY": 18, "titleBaseline": "top"},
 "axisY": {"labelExpr": "datum.value === 1 ? '1' : datum.value === 0 ? '0' : ''", "labelPadding": 8, "titleFontWeight": "bold", "titleFontSize": 19, "titlePadding": -10},
 "legend": {"orient": "none", "legendX": 252, "legendY": -80, "direction": "horizontal", "symbolType": "M-2,0H2", "symbolSize": 1056, "symbolStrokeColor": "black", "labelFont": "Liberation Serif", "labelFontSize": 24, "labelColor": "black", "labelOffset": 53, "columnPadding": 58, "padding": 11, "strokeColor": "black", "strokeWidth": 2, "symbolOffset": 37},
 "title": {"font": "Liberation Serif", "fontSize": 23, "fontWeight": "bold", "color": "black"}
}
}
